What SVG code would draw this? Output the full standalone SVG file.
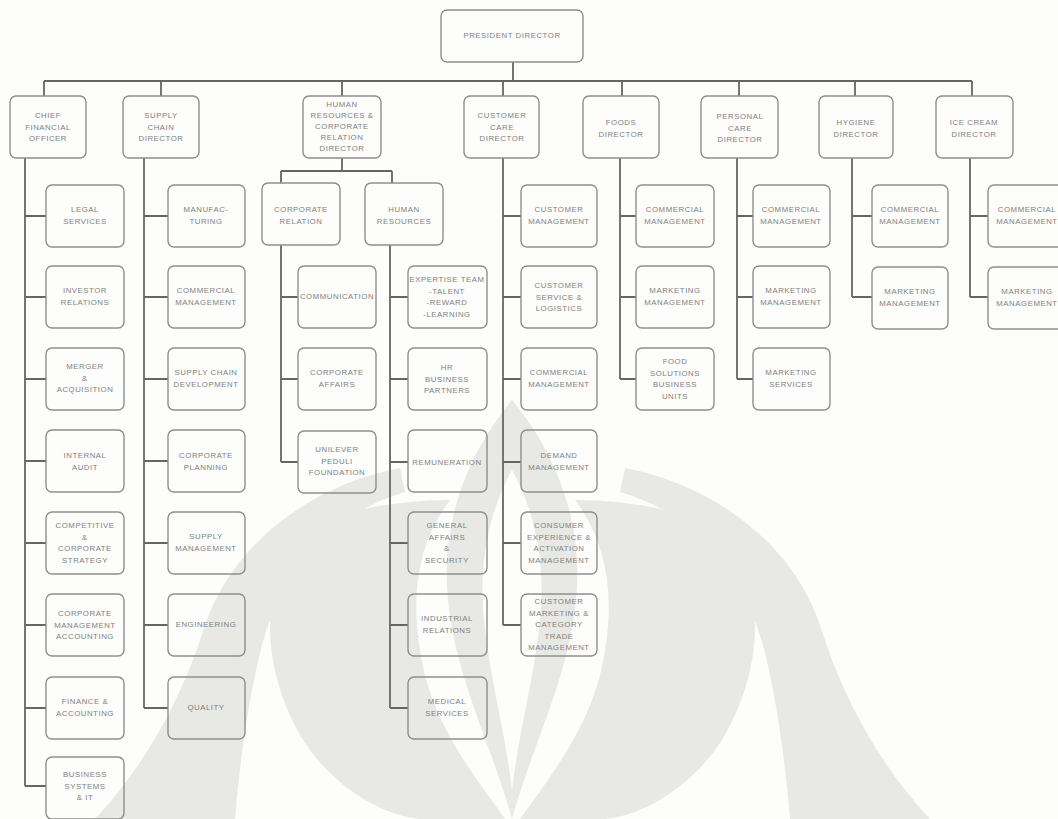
<svg xmlns="http://www.w3.org/2000/svg" width="1058" height="819" viewBox="0 0 1058 819">
<style>
.b{fill:none;stroke:#8e8e8e;stroke-width:1.4}
.t{font-family:"Liberation Sans",Arial,sans-serif;font-size:7.8px;fill:#808080;text-anchor:middle;letter-spacing:0.55px}
.c{fill:none;stroke:#666;stroke-width:1.8}
.w{fill:#e8e8e4}
.g{fill:#fdfdfb}
</style>
<rect width="1058" height="819" fill="#fdfdfb"/>
<g id="watermark">
<path class="w" d="M400 468C310 485 232 545 205 625C185 690 150 760 95 819H235C240 760 248 700 262 645C285 565 330 515 405 492Z"/>
<path class="w" d="M625 468C715 485 793 545 820 625C840 690 875 760 930 819H790C785 760 777 700 763 645C740 565 695 515 620 492Z"/>
<path class="w" d="M300 530C262 580 258 660 300 735C330 785 380 815 420 819H505C470 770 430 720 420 650C410 590 420 540 450 500C400 500 340 510 300 530Z"/>
<path class="w" d="M725 530C763 580 767 660 725 735C695 785 645 815 605 819H520C555 770 595 720 605 650C615 590 605 540 575 500C625 500 685 510 725 530Z"/>
<path class="w" d="M512 400C470 450 440 520 448 600C456 680 490 740 512 819C534 740 568 680 576 600C584 520 554 450 512 400Z"/>
<path class="g" d="M512 470C490 510 478 560 484 620C490 680 505 730 512 790C519 730 534 680 540 620C546 560 534 510 512 470Z"/>
</g>
<g id="connectors">
<path class="c" d="M513 62V81M44 81H972M44 81V96M161 81V96M342 81V96M503 81V96M622 81V96M739 81V96M855 81V96M972 81V96"/>
<path class="c" d="M342 158V171M281 171H392M281 171V183M392 171V183"/>
<path class="c" d="M25 158V786M25 216H46M25 297H46M25 379H46M25 461H46M25 543H46M25 625H46M25 708H46M25 786H46"/>
<path class="c" d="M144 158V708M144 216H168M144 297H168M144 379H168M144 461H168M144 543H168M144 625H168M144 708H168"/>
<path class="c" d="M281 245V462M281 297H298M281 379H298M281 462H298"/>
<path class="c" d="M390 245V708M390 297H408M390 379H408M390 462H408M390 543H408M390 625H408M390 708H408"/>
<path class="c" d="M503 158V625M503 216H521M503 297H521M503 379H521M503 462H521M503 543H521M503 625H521"/>
<path class="c" d="M620 158V379M620 216H636M620 297H636M620 379H636"/>
<path class="c" d="M737 158V379M737 216H753M737 297H753M737 379H753"/>
<path class="c" d="M852 158V297M852 216H872M852 297H872"/>
<path class="c" d="M970 158V297M970 216H988M970 297H988"/>
</g>
<g id="president"><rect class="b" x="441" y="10" width="142" height="52" rx="6"/><text class="t" x="512" y="38">PRESIDENT DIRECTOR</text></g>
<g id="cfo"><rect class="b" x="10" y="96" width="76" height="62" rx="6"/><text class="t" x="48" y="118">CHIEF<tspan x="48" dy="11.5">FINANCIAL</tspan><tspan x="48" dy="11.5">OFFICER</tspan></text></g>
<g id="supply-chain"><rect class="b" x="123" y="96" width="76" height="62" rx="6"/><text class="t" x="161" y="118">SUPPLY<tspan x="161" dy="11.5">CHAIN</tspan><tspan x="161" dy="11.5">DIRECTOR</tspan></text></g>
<g id="hr-cr"><rect class="b" x="303" y="96" width="78" height="62" rx="6"/><text class="t" x="342" y="107">HUMAN<tspan x="342" dy="11">RESOURCES &amp;</tspan><tspan x="342" dy="11">CORPORATE</tspan><tspan x="342" dy="11">RELATION</tspan><tspan x="342" dy="11">DIRECTOR</tspan></text></g>
<g id="customer-care"><rect class="b" x="464" y="96" width="75" height="62" rx="6"/><text class="t" x="502" y="118">CUSTOMER<tspan x="502" dy="11.5">CARE</tspan><tspan x="502" dy="11.5">DIRECTOR</tspan></text></g>
<g id="foods"><rect class="b" x="583" y="96" width="76" height="62" rx="6"/><text class="t" x="621" y="125">FOODS<tspan x="621" dy="11.5">DIRECTOR</tspan></text></g>
<g id="personal-care"><rect class="b" x="701" y="96" width="77" height="62" rx="6"/><text class="t" x="740" y="119">PERSONAL<tspan x="740" dy="11.5">CARE</tspan><tspan x="740" dy="11.5">DIRECTOR</tspan></text></g>
<g id="hygiene"><rect class="b" x="819" y="96" width="74" height="62" rx="6"/><text class="t" x="856" y="125">HYGIENE<tspan x="856" dy="11.5">DIRECTOR</tspan></text></g>
<g id="ice-cream"><rect class="b" x="936" y="96" width="77" height="62" rx="6"/><text class="t" x="974" y="125">ICE CREAM<tspan x="974" dy="11.5">DIRECTOR</tspan></text></g>
<g id="corporate-relation"><rect class="b" x="262" y="183" width="78" height="62" rx="6"/><text class="t" x="301" y="212">CORPORATE<tspan x="301" dy="11.5">RELATION</tspan></text></g>
<g id="human-resources"><rect class="b" x="365" y="183" width="78" height="62" rx="6"/><text class="t" x="404" y="212">HUMAN<tspan x="404" dy="11.5">RESOURCES</tspan></text></g>
<g id="legal"><rect class="b" x="46" y="185" width="78" height="62" rx="6"/><text class="t" x="85" y="212">LEGAL<tspan x="85" dy="11.5">SERVICES</tspan></text></g>
<g id="investor"><rect class="b" x="46" y="266" width="78" height="62" rx="6"/><text class="t" x="85" y="293">INVESTOR<tspan x="85" dy="11.5">RELATIONS</tspan></text></g>
<g id="merger"><rect class="b" x="46" y="348" width="78" height="62" rx="6"/><text class="t" x="85" y="369">MERGER<tspan x="85" dy="11.5">&amp;</tspan><tspan x="85" dy="11.5">ACQUISITION</tspan></text></g>
<g id="audit"><rect class="b" x="46" y="430" width="78" height="62" rx="6"/><text class="t" x="85" y="458">INTERNAL<tspan x="85" dy="11.5">AUDIT</tspan></text></g>
<g id="strategy"><rect class="b" x="46" y="512" width="78" height="62" rx="6"/><text class="t" x="85" y="528">COMPETITIVE<tspan x="85" dy="11.5">&amp;</tspan><tspan x="85" dy="11.5">CORPORATE</tspan><tspan x="85" dy="11.5">STRATEGY</tspan></text></g>
<g id="cma"><rect class="b" x="46" y="594" width="78" height="62" rx="6"/><text class="t" x="85" y="616">CORPORATE<tspan x="85" dy="11.5">MANAGEMENT</tspan><tspan x="85" dy="11.5">ACCOUNTING</tspan></text></g>
<g id="finance"><rect class="b" x="46" y="677" width="78" height="62" rx="6"/><text class="t" x="85" y="704">FINANCE &amp;<tspan x="85" dy="11.5">ACCOUNTING</tspan></text></g>
<g id="bsit"><rect class="b" x="46" y="757" width="78" height="62" rx="6"/><text class="t" x="85" y="777">BUSINESS<tspan x="85" dy="11.5">SYSTEMS</tspan><tspan x="85" dy="11.5">&amp; IT</tspan></text></g>
<g id="manufacturing"><rect class="b" x="168" y="185" width="77" height="62" rx="6"/><text class="t" x="206" y="212">MANUFAC-<tspan x="206" dy="11.5">TURING</tspan></text></g>
<g id="sc-commercial"><rect class="b" x="168" y="266" width="77" height="62" rx="6"/><text class="t" x="206" y="293">COMMERCIAL<tspan x="206" dy="11.5">MANAGEMENT</tspan></text></g>
<g id="scd"><rect class="b" x="168" y="348" width="77" height="62" rx="6"/><text class="t" x="206" y="375">SUPPLY CHAIN<tspan x="206" dy="11.5">DEVELOPMENT</tspan></text></g>
<g id="planning"><rect class="b" x="168" y="430" width="77" height="62" rx="6"/><text class="t" x="206" y="458">CORPORATE<tspan x="206" dy="11.5">PLANNING</tspan></text></g>
<g id="supply-mgmt"><rect class="b" x="168" y="512" width="77" height="62" rx="6"/><text class="t" x="206" y="539">SUPPLY<tspan x="206" dy="11.5">MANAGEMENT</tspan></text></g>
<g id="engineering"><rect class="b" x="168" y="594" width="77" height="62" rx="6"/><text class="t" x="206" y="627">ENGINEERING</text></g>
<g id="quality"><rect class="b" x="168" y="677" width="77" height="62" rx="6"/><text class="t" x="206" y="710">QUALITY</text></g>
<g id="communication"><rect class="b" x="298" y="266" width="78" height="62" rx="6"/><text class="t" x="337" y="299">COMMUNICATION</text></g>
<g id="corp-affairs"><rect class="b" x="298" y="348" width="78" height="62" rx="6"/><text class="t" x="337" y="375">CORPORATE<tspan x="337" dy="11.5">AFFAIRS</tspan></text></g>
<g id="peduli"><rect class="b" x="298" y="431" width="78" height="62" rx="6"/><text class="t" x="337" y="452">UNILEVER<tspan x="337" dy="11.5">PEDULI</tspan><tspan x="337" dy="11.5">FOUNDATION</tspan></text></g>
<g id="expertise"><rect class="b" x="408" y="266" width="79" height="62" rx="6"/><text class="t" x="447" y="282">EXPERTISE TEAM<tspan x="447" dy="11.5">-TALENT</tspan><tspan x="447" dy="11.5">-REWARD</tspan><tspan x="447" dy="11.5">-LEARNING</tspan></text></g>
<g id="hrbp"><rect class="b" x="408" y="348" width="79" height="62" rx="6"/><text class="t" x="447" y="370">HR<tspan x="447" dy="11.5">BUSINESS</tspan><tspan x="447" dy="11.5">PARTNERS</tspan></text></g>
<g id="remuneration"><rect class="b" x="408" y="430" width="79" height="62" rx="6"/><text class="t" x="447" y="465">REMUNERATION</text></g>
<g id="general-affairs"><rect class="b" x="408" y="512" width="79" height="62" rx="6"/><text class="t" x="447" y="528">GENERAL<tspan x="447" dy="11.5">AFFAIRS</tspan><tspan x="447" dy="11.5">&amp;</tspan><tspan x="447" dy="11.5">SECURITY</tspan></text></g>
<g id="industrial"><rect class="b" x="408" y="594" width="79" height="62" rx="6"/><text class="t" x="447" y="621">INDUSTRIAL<tspan x="447" dy="11.5">RELATIONS</tspan></text></g>
<g id="medical"><rect class="b" x="408" y="677" width="79" height="62" rx="6"/><text class="t" x="447" y="704">MEDICAL<tspan x="447" dy="11.5">SERVICES</tspan></text></g>
<g id="customer-mgmt"><rect class="b" x="521" y="185" width="76" height="62" rx="6"/><text class="t" x="559" y="212">CUSTOMER<tspan x="559" dy="11.5">MANAGEMENT</tspan></text></g>
<g id="cs-logistics"><rect class="b" x="521" y="266" width="76" height="62" rx="6"/><text class="t" x="559" y="288">CUSTOMER<tspan x="559" dy="11.5">SERVICE &amp;</tspan><tspan x="559" dy="11.5">LOGISTICS</tspan></text></g>
<g id="cc-commercial"><rect class="b" x="521" y="348" width="76" height="62" rx="6"/><text class="t" x="559" y="375">COMMERCIAL<tspan x="559" dy="11.5">MANAGEMENT</tspan></text></g>
<g id="demand"><rect class="b" x="521" y="430" width="76" height="62" rx="6"/><text class="t" x="559" y="458">DEMAND<tspan x="559" dy="11.5">MANAGEMENT</tspan></text></g>
<g id="consumer-exp"><rect class="b" x="521" y="512" width="76" height="62" rx="6"/><text class="t" x="559" y="528">CONSUMER<tspan x="559" dy="11.5">EXPERIENCE &amp;</tspan><tspan x="559" dy="11.5">ACTIVATION</tspan><tspan x="559" dy="11.5">MANAGEMENT</tspan></text></g>
<g id="cmctm"><rect class="b" x="521" y="594" width="76" height="62" rx="6"/><text class="t" x="559" y="604">CUSTOMER<tspan x="559" dy="11.5">MARKETING &amp;</tspan><tspan x="559" dy="11.5">CATEGORY</tspan><tspan x="559" dy="11.5">TRADE</tspan><tspan x="559" dy="11.5">MANAGEMENT</tspan></text></g>
<g id="foods-commercial"><rect class="b" x="636" y="185" width="78" height="62" rx="6"/><text class="t" x="675" y="212">COMMERCIAL<tspan x="675" dy="11.5">MANAGEMENT</tspan></text></g>
<g id="foods-marketing"><rect class="b" x="636" y="266" width="78" height="62" rx="6"/><text class="t" x="675" y="293">MARKETING<tspan x="675" dy="11.5">MANAGEMENT</tspan></text></g>
<g id="food-solutions"><rect class="b" x="636" y="348" width="78" height="62" rx="6"/><text class="t" x="675" y="364">FOOD<tspan x="675" dy="11.5">SOLUTIONS</tspan><tspan x="675" dy="11.5">BUSINESS</tspan><tspan x="675" dy="11.5">UNITS</tspan></text></g>
<g id="pc-commercial"><rect class="b" x="753" y="185" width="77" height="62" rx="6"/><text class="t" x="791" y="212">COMMERCIAL<tspan x="791" dy="11.5">MANAGEMENT</tspan></text></g>
<g id="pc-marketing"><rect class="b" x="753" y="266" width="77" height="62" rx="6"/><text class="t" x="791" y="293">MARKETING<tspan x="791" dy="11.5">MANAGEMENT</tspan></text></g>
<g id="pc-services"><rect class="b" x="753" y="348" width="77" height="62" rx="6"/><text class="t" x="791" y="375">MARKETING<tspan x="791" dy="11.5">SERVICES</tspan></text></g>
<g id="hy-commercial"><rect class="b" x="872" y="185" width="76" height="62" rx="6"/><text class="t" x="910" y="212">COMMERCIAL<tspan x="910" dy="11.5">MANAGEMENT</tspan></text></g>
<g id="hy-marketing"><rect class="b" x="872" y="267" width="76" height="62" rx="6"/><text class="t" x="910" y="294">MARKETING<tspan x="910" dy="11.5">MANAGEMENT</tspan></text></g>
<g id="ic-commercial"><rect class="b" x="988" y="185" width="78" height="62" rx="6"/><text class="t" x="1027" y="212">COMMERCIAL<tspan x="1027" dy="11.5">MANAGEMENT</tspan></text></g>
<g id="ic-marketing"><rect class="b" x="988" y="267" width="78" height="62" rx="6"/><text class="t" x="1027" y="294">MARKETING<tspan x="1027" dy="11.5">MANAGEMENT</tspan></text></g>
</svg>
